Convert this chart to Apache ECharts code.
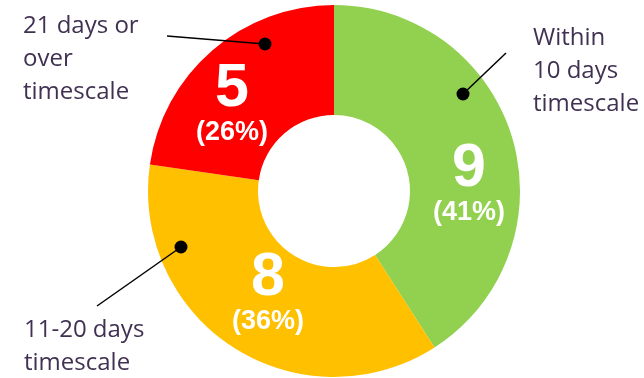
<!DOCTYPE html>
<html>
<head>
<meta charset="utf-8">
<style>
  html, body { margin: 0; padding: 0; background: #ffffff; }
  #chart { width: 644px; height: 378px; }
</style>
<script src="https://cdn.jsdelivr.net/npm/echarts@6/dist/echarts.min.js"></script>
</head>
<body>
<div id="chart"></div>
<script>
// Timescale buckets, counts and the stated share of each
const categories = ['Within\n10 days\ntimescale', '11-20 days\ntimescale', '21 days or\nover\ntimescale'];
const counts = [9, 8, 5];
const shares = ['41%', '36%', '26%'];
const colors = ['#92D050', '#FFC000', '#FF0000'];

// Where the value labels sit inside each segment
const valueLabelPos = [[469, 189], [268, 298], [232, 109]];

// Callout layout: dot on the ring, end of the leader, text block origin
const callouts = [
  { dot: [463, 94],  end: [506, 53],  text: [533, 22] },
  { dot: [181, 247], end: [97, 306],  text: [24, 314] },
  { dot: [265, 44],  end: [167, 36],  text: [23, 10] }
];

const chart = echarts.init(document.getElementById('chart'), null, { renderer: 'canvas' });

const graphic = [];
callouts.forEach((c, i) => {
  graphic.push({
    type: 'line', silent: true, z: 10,
    shape: { x1: c.dot[0], y1: c.dot[1], x2: c.end[0], y2: c.end[1] },
    style: { stroke: '#000000', lineWidth: 1.5 }
  });
  graphic.push({
    type: 'circle', silent: true, z: 11,
    shape: { cx: c.dot[0], cy: c.dot[1], r: 6.5 },
    style: { fill: '#000000' }
  });
  graphic.push({
    type: 'text', silent: true, z: 11,
    x: c.text[0], y: c.text[1],
    style: {
      text: categories[i],
      fill: '#403152',
      font: '24px "Open Sans"',
      lineHeight: 33,
      textAlign: 'left',
      textVerticalAlign: 'top'
    }
  });
});

chart.setOption({
  animation: false,
  backgroundColor: '#ffffff',
  graphic: graphic,
  series: [{
    type: 'pie',
    center: [334, 191],
    radius: [76, 186],
    startAngle: 90,
    clockwise: true,
    silent: true,
    itemStyle: { borderWidth: 0 },
    data: counts.map((v, i) => ({
      name: categories[i],
      value: v,
      itemStyle: { color: colors[i] }
    })),
    label: {
      show: true,
      position: 'inside',
      formatter: (p) => '{v|' + p.value + '}\n{p|(' + shares[p.dataIndex] + ')}',
      rich: {
        v: {
          fontFamily: '"Liberation Sans", Arial, sans-serif',
          fontWeight: 'bold', fontSize: 61, lineHeight: 48,
          color: '#ffffff', align: 'center'
        },
        p: {
          fontFamily: '"Liberation Sans", Arial, sans-serif',
          fontWeight: 'bold', fontSize: 27, lineHeight: 40,
          color: '#ffffff', align: 'center'
        }
      }
    },
    labelLine: { show: false },
    labelLayout: (params) => ({
      x: valueLabelPos[params.dataIndex][0],
      y: valueLabelPos[params.dataIndex][1],
      align: 'center',
      verticalAlign: 'middle'
    })
  }]
});
</script>
</body>
</html>
